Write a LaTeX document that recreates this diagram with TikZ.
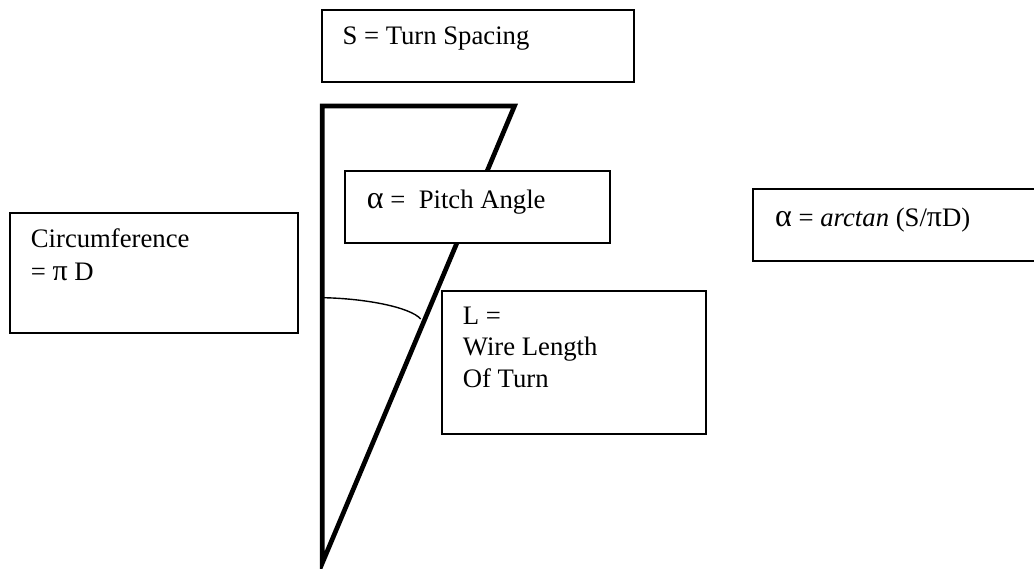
\documentclass[tikz,border=0pt]{standalone}
\usepackage{fontspec}
\setmainfont{Liberation Serif}
\newcommand{\bigalpha}{{\fontsize{32}{30}\selectfont α}}
\newcommand{\bigpi}{{\fontsize{30}{30}\selectfont π}}
\begin{document}
\begin{tikzpicture}[x=1pt,y=-1pt,
  tbox/.style={draw=black,line width=1.8pt,fill=white},
  lbl/.style={anchor=base west,inner sep=0pt,font=\fontsize{26.7}{30}\selectfont},
  wedge/.style={draw=black,line width=4.7pt,miter limit=20,line join=miter},
  arcline/.style={draw=black,line width=1.4pt}]
\useasboundingbox (0,0) rectangle (1034,569);
\clip (0,0) rectangle (1034,569);
\coordinate (top) at (322.3,106);
\coordinate (tip) at (322.3,563);
\coordinate (right) at (514.5,106);
\coordinate (arcA) at (323,297.7);
\coordinate (arcB) at (420.7,319);
\draw[wedge] (top) -- (right) -- (tip) -- cycle;
\draw[arcline] (arcA) .. controls (365,298.5) and (410,307) .. (arcB);
\draw[tbox] (321.7,9.7) rectangle (633.7,81.7);
\draw[tbox] (345.3,171) rectangle (610,243);
\draw[tbox] (9.7,213) rectangle (297.7,332.7);
\draw[tbox] (441.7,290.7) rectangle (706,434.3);
\draw[tbox] (753.3,189) rectangle (1045,260.7);
\node[lbl] (s) at (342.3,45) {S = Turn Spacing};
\node[lbl] (p) at (366.7,209) {\bigalpha{} =\ \ Pitch Angle};
\node[lbl] (c) at (30.7,248) {Circumference};
\node[lbl] (c2) at (30.7,281) {= \bigpi{} D};
\node[lbl] (l1) at (462.7,325) {L =};
\node[lbl] (l2) at (462.7,356) {Wire Length};
\node[lbl] (l3) at (462.7,387.7) {Of Turn};
\node[lbl] (f) at (775,226.7) {\bigalpha{} = \textit{arctan} (S/\bigpi{}D)};
\end{tikzpicture}
\end{document}
